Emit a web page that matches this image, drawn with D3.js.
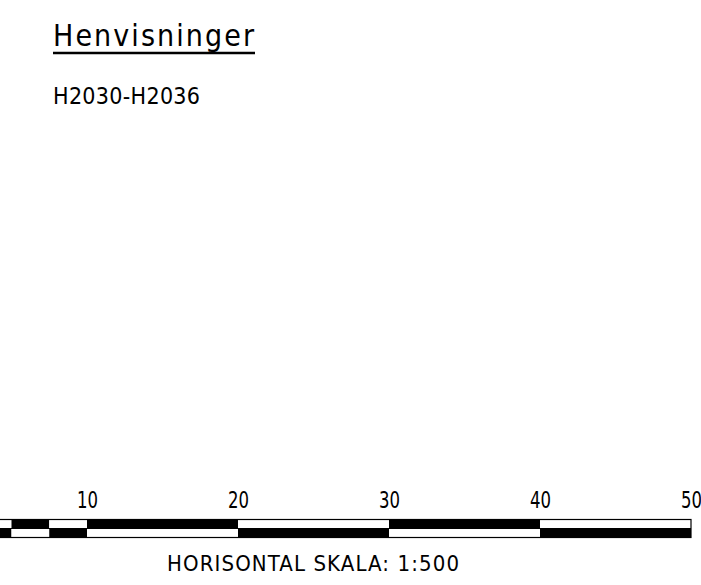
<script src="https://cdn.jsdelivr.net/npm/d3@7"></script>
<body style="margin:0;background:#fff">
</body>
<script>
// scale bar values (metres)
var tickValues = [10, 20, 30, 40, 50];
var segmentEdges = [0, 2.5, 5, 7.5, 10, 20, 30, 40, 50];
var title = "Henvisninger";
var reference = "H2030-H2036";
var scaleLabel = "HORISONTAL SKALA: 1:500";

const W = 701, H = 585;
const font = "'DejaVu Sans Condensed', 'DejaVu Sans', sans-serif";

const svg = d3.select("body").append("svg")
  .attr("width", W).attr("height", H)
  .style("display", "block");

// title + underline
svg.append("text")
  .attr("x", 53).attr("y", 46)
  .attr("font-family", font).attr("font-size", 30)
  .attr("textLength", 201).attr("lengthAdjust", "spacing")
  .text(title);
svg.append("line")
  .attr("x1", 53).attr("x2", 255).attr("y1", 53).attr("y2", 53)
  .attr("stroke", "#000").attr("stroke-width", 2.5);

svg.append("text")
  .attr("x", 53).attr("y", 104)
  .attr("font-family", font).attr("font-size", 23)
  .attr("textLength", 147).attr("lengthAdjust", "spacing")
  .text(reference);

// scale
var x = d3.scaleLinear().domain([0, 50]).range([-64, 691]);
const barTop = 519.5, barMid = 528.5, barBot = 537.5;

var segs = d3.pairs(segmentEdges);
var g = svg.append("g");
// top row alternates starting black at 0, bottom row is the inverse
g.selectAll("rect.top").data(segs).enter().append("rect")
  .attr("x", d => x(d[0])).attr("width", d => x(d[1]) - x(d[0]))
  .attr("y", barTop).attr("height", barMid - barTop)
  .attr("fill", (d, i) => i % 2 == 0 ? "#000" : "#fff");
g.selectAll("rect.bot").data(segs).enter().append("rect")
  .attr("x", d => x(d[0])).attr("width", d => x(d[1]) - x(d[0]))
  .attr("y", barMid).attr("height", barBot - barMid)
  .attr("fill", (d, i) => i % 2 == 0 ? "#fff" : "#000");

// outline
g.append("rect")
  .attr("x", x(0)).attr("width", x(50) - x(0))
  .attr("y", barTop).attr("height", barBot - barTop)
  .attr("fill", "none").attr("stroke", "#000").attr("stroke-width", 1.2);
g.append("line")
  .attr("x1", x(0)).attr("x2", x(50)).attr("y1", barMid).attr("y2", barMid)
  .attr("stroke", "#000").attr("stroke-width", 1.2);

// tick labels
svg.selectAll("text.tick").data(tickValues).enter().append("text")
  .attr("class", "tick")
  .attr("x", d => x(d) - 10).attr("y", 508)
  .attr("font-family", font).attr("font-size", 23)
  .attr("textLength", 21).attr("lengthAdjust", "spacingAndGlyphs")
  .text(d => d);

svg.append("text")
  .attr("x", 167).attr("y", 571)
  .attr("font-family", font).attr("font-size", 22)
  .attr("textLength", 292).attr("lengthAdjust", "spacing")
  .text(scaleLabel);
</script>
